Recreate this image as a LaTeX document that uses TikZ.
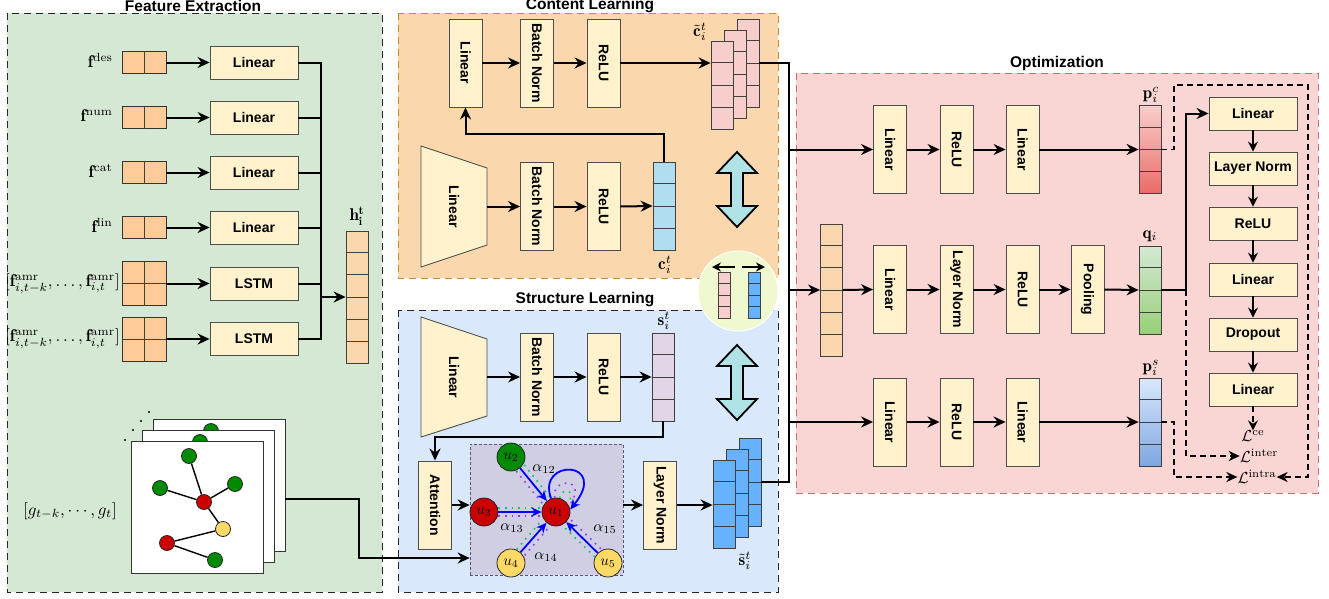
\documentclass[tikz,border=0pt]{standalone}
\usepackage{fontspec}
\setsansfont{Liberation Sans}
\usepackage{graphicx}
\usetikzlibrary{arrows.meta,calc}
\definecolor{boxy}{HTML}{FFF2CC}
\definecolor{boxb}{HTML}{4D4D4D}
\definecolor{featc}{HTML}{FFCC99}
\definecolor{greenp}{HTML}{D5E8D4}
\definecolor{orangep}{HTML}{FAD7AC}
\definecolor{orangeb}{HTML}{C98A35}
\definecolor{bluep}{HTML}{DAE8FC}
\definecolor{redp}{HTML}{F9D6D4}
\definecolor{redb}{HTML}{C8706B}
\definecolor{pinkc}{HTML}{F8CECC}
\definecolor{cyanc}{HTML}{B1DDF0}
\definecolor{purpc}{HTML}{E1D5E7}
\definecolor{bluec}{HTML}{66B2FF}
\definecolor{darrc}{HTML}{B0E3E6}
\definecolor{circc}{HTML}{F0F8D0}
\definecolor{gpanel}{HTML}{D0CEE2}
\definecolor{gpanelb}{HTML}{56517E}
\definecolor{nred}{HTML}{CC0000}
\definecolor{ngreen}{HTML}{008A00}
\definecolor{nyellow}{HTML}{FFD966}
\definecolor{dotgreen}{HTML}{00CC66}
\definecolor{dotpurple}{HTML}{9933FF}
\newcommand{\vt}[1]{\rotatebox{-90}{#1}}
\newcommand{\ml}[2][1.7]{\scalebox{#1}{$#2$}}
\newcommand{\vecn}[5]{%
  \node[vecst, minimum height=#4*22, #5] (#1) at (#2,#3) {};
  \pgfmathtruncatemacro{\nm}{#4-1}%
  \foreach \k in {1,...,\nm} {\draw[cellline] ($(#1.north west)!\k/#4!(#1.south west)$) -- ($(#1.north east)!\k/#4!(#1.south east)$);}%
}
\begin{document}
\begin{tikzpicture}[x=1pt,y=-1pt,
  conn/.style={line width=2, black},
  arr/.style={conn, -{Stealth[length=12pt,width=11pt,inset=4pt]}},
  darr/.style={line width=1.8, dash pattern=on 6pt off 4pt, -{Stealth[length=11pt,width=10pt,inset=3.5pt]}},
  box/.style={draw=boxb, fill=boxy, line width=0.9, inner sep=0, font=\sffamily\bfseries\fontsize{14}{16}\selectfont},
  hbox/.style={box, minimum width=88, minimum height=33},
  vbox/.style={box, minimum width=33, minimum height=88},
  trap/.style={draw=boxb, fill=boxy, line width=0.9},
  tlbl/.style={inner sep=0, font=\sffamily\bfseries\fontsize{14}{16}\selectfont},
  vecst/.style={draw=black!75, line width=0.8, minimum width=22, inner sep=0},
  cellline/.style={black!75, line width=0.8},
  panel/.style={line width=1, dash pattern=on 7pt off 5pt},
  title/.style={font=\sffamily\bfseries\fontsize{15.5}{17}\selectfont, inner sep=1},
  mlab/.style={inner sep=0},
  gn/.style={circle, draw=black!85, line width=0.8, minimum size=15, inner sep=0},
  un/.style={circle, draw=black!85, line width=0.8, minimum size=28, inner sep=0},
  gsq/.style={draw=black!80, fill=white, line width=0.9, minimum size=132, inner sep=0},
  barr/.style={blue, line width=1.8, -{Stealth[length=10pt,width=9pt,inset=3pt]}},
  dotg/.style={dotgreen, line width=1.6, dash pattern=on 1.6pt off 5pt},
  dotp/.style={dotpurple, line width=1.6, dash pattern=on 1.6pt off 5pt},
  darrow/.style={fill=darrc, draw=black, line width=1.8, line join=miter},
  fbox/.style={draw=black!80, fill=featc, line width=0.9, minimum width=44, minimum height=22, inner sep=0},
  abox/.style={draw=black!80, fill=featc, line width=0.9, minimum width=44, minimum height=44, inner sep=0},
]
\useasboundingbox (0,0) rectangle (1329,598);

% ================= panels =================
\draw[panel, fill=greenp, draw=black!85] (7,13) rectangle (382,592);
\node[title] (tfe) at (193,6) {Feature Extraction};
\draw[panel, fill=orangep, draw=orangeb] (398,13) rectangle (778,278);
\node[title] (tcl) at (590,6) {Content Learning};
\draw[panel, fill=bluep, draw=black!85] (398,310) rectangle (778,592);
\node[title] (tsl) at (585,300) {Structure Learning};
\draw[panel, fill=redp, draw=redb] (796,73) rectangle (1318,493);
\node[title] (top) at (1057,63) {Optimization};

% ================= feature extraction =================
\foreach \n/\y/\lab in {1/62.5/des, 2/117.5/num, 3/172.5/cat, 4/227.5/lin} {
  \node[fbox] (fb\n) at (144,\y) {};
  \draw[cellline] (fb\n.north) -- (fb\n.south);
  \node[mlab, anchor=east] (fl\n) at (113,\y-2) {\ml{\mathbf{f}^{\mathrm{\lab}}}};
  \node[hbox] (fe\n) at (254,\y) {Linear};
  \draw[arr] (fb\n.east) -- (fe\n.west);
}
\foreach \n/\y in {5/283.5, 6/339} {
  \node[abox] (ab\n) at (144,\y) {};
  \draw[cellline] (ab\n.north) -- (ab\n.south);
  \draw[cellline] (ab\n.west) -- (ab\n.east);
  \node[mlab, anchor=east] (al\n) at (120,\y) {\ml{[\mathbf{f}^{\mathrm{amr}}_{i,t-k},\ldots,\mathbf{f}^{\mathrm{amr}}_{i,t}]}};
  \node[hbox] (fe\n) at (254,\y) {LSTM};
  \draw[arr] (ab\n.east) -- (fe\n.west);
}
\coordinate (bj) at (321,297);
\foreach \n in {1,...,6} { \draw[conn] (fe\n.east) -| (bj); }
\vecn{hv}{357}{297}{6}{fill=orangep}
\draw[arr] (bj) -- (hv.west);
\node[mlab] (hlab) at (357,216) {\ml{\mathbf{h}_{\mathbf{i}}^{\mathbf{t}}}};

% graph stack
\node[gsq] (gback) at (219,485) {};
\node[gn, fill=ngreen] (gbn) at (211,431) {};
\node[gsq] (gmid) at (208,496) {};
\node[gn, fill=ngreen] (gmn) at (200,442) {};
\node[gsq] (gfront) at (197,507) {};
\node[gn, fill=ngreen] (ga) at (189,456) {};
\node[gn, fill=ngreen] (gb) at (160,488) {};
\node[gn, fill=ngreen] (gc) at (235,484) {};
\node[gn, fill=nred] (gd) at (204,502) {};
\node[gn, fill=nyellow] (ge) at (223,529) {};
\node[gn, fill=nred] (gf) at (167,543) {};
\node[gn, fill=ngreen] (gg) at (215,560) {};
\foreach \a/\b in {ga/gd, gb/gd, gc/gd, gd/ge, ge/gf, gf/gg} { \draw[line width=1.4] (\a) -- (\b); }
\foreach \p in {(125,440),(133,430),(141,421),(149,412)} { \fill \p circle (1.2); }
\node[mlab] (glab) at (70,511) {\ml{[g_{t-k},\cdots,g_t]}};

% ================= content learning =================
\node[vbox] (ctl) at (465.5,63) {\vt{Linear}};
\node[vbox] (cbn1) at (537,63) {\vt{Batch Norm}};
\node[vbox] (crl1) at (603.5,63) {\vt{ReLU}};
\draw[trap] (421,146) -- (487,168) -- (487,245) -- (421,267) -- cycle;
\node[tlbl, minimum width=66, minimum height=121] (clin) at (454,206.5) {\vt{Linear}};
\node[vbox] (cbn2) at (537,206.5) {\vt{Batch Norm}};
\node[vbox] (crl2) at (603.5,206.5) {\vt{ReLU}};
\vecn{cv}{664}{206}{4}{fill=cyanc}
\node[mlab] (cvlab) at (665,265) {\ml{\mathbf{c}_i^t}};
\draw[arr] (clin.east) -- (cbn2.west);
\draw[arr] (cbn2.east) -- (crl2.west);
\draw[arr] (crl2.east) -- (cv.west);
\coordinate (cup) at (664,134);
\draw[arr] (cv.north) -- (cup) -| (ctl.south);
\draw[arr] (ctl.east) -- (cbn1.west);
\draw[arr] (cbn1.east) -- (crl1.west);
\vecn{ctb}{748}{63}{4}{fill=pinkc}
\vecn{ctm}{735}{74}{4}{fill=pinkc}
\vecn{ctf}{722}{85}{4}{fill=pinkc}
\draw[arr] (crl1.east) -- (ctf.west |- crl1.east);
\node[mlab] (ctlab) at (700,32) {\ml{\tilde{\mathbf{c}}_i^t}};
\draw[darrow] (737,152) -- (757,173) -- (743,173) -- (743,206) -- (757,206) -- (737,227) -- (717,206) -- (731,206) -- (731,173) -- (717,173) -- cycle;

% ================= structure learning =================
\draw[trap] (421,317) -- (487,339) -- (487,416) -- (421,437) -- cycle;
\node[tlbl, minimum width=66, minimum height=120] (slin) at (454,377) {\vt{Linear}};
\node[vbox] (sbn) at (537,377) {\vt{Batch Norm}};
\node[vbox] (srl) at (603.5,377) {\vt{ReLU}};
\vecn{sv}{663}{377}{4}{fill=purpc}
\node[mlab] (svlab) at (664,321) {\ml{\mathbf{s}_i^t}};
\draw[arr] (slin.east) -- (sbn.west);
\draw[arr] (sbn.east) -- (srl.west);
\draw[arr] (srl.east) -- (sv.west);
\node[vbox] (att) at (435,505) {\vt{Attention}};
\coordinate (sdn) at (663,437);
\draw[arr] (sv.south) -- (sdn) -| (att.north);
\node[draw=gpanelb, fill=gpanel, line width=0.7, dash pattern=on 3pt off 2pt, minimum width=153, minimum height=131, inner sep=0] (gp) at (546.5,509.5) {};
\node[vbox] (lnorm) at (660,505) {\vt{Layer Norm}};
\draw[arr] (att.east) -- (gp.west |- att.east);
\draw[arr] (gp.east |- lnorm.west) -- (lnorm.west);
\coordinate (gk) at (359,558);
\draw[arr] ([yshift=-14pt]gback.east) -| (gk) -- (gp.west |- gk);
% attention graph
\node[un, fill=nred] (u1) at (556,512) {\ml[1.5]{u_1}};
\node[un, fill=ngreen] (u2) at (511,457) {\ml[1.5]{u_2}};
\node[un, fill=nred] (u3) at (484,512) {\ml[1.5]{u_3}};
\node[un, fill=nyellow] (u4) at (511,563) {\ml[1.5]{u_4}};
\node[un, fill=nyellow] (u5) at (608,563) {\ml[1.5]{u_5}};
\draw[dotg] ([shift={(0,-4)}]u3.east) -- ([shift={(0,-4)}]u1.west);
\draw[dotp] ([shift={(0,4)}]u3.east) -- ([shift={(0,4)}]u1.west);
\draw[dotg] ([shift={(4,-3)}]u2.-50) -- ([shift={(4,-3)}]u1.130);
\draw[dotp] ([shift={(-4,3)}]u2.-50) -- ([shift={(-4,3)}]u1.130);
\draw[dotg] ([shift={(-4,-3)}]u4.48) -- ([shift={(-4,-3)}]u1.-132);
\draw[dotp] ([shift={(4,3)}]u4.48) -- ([shift={(4,3)}]u1.-132);
\draw[dotp] ([shift={(3,-4)}]u5.135) -- ([shift={(3,-4)}]u1.-45);
\draw[dotg] ([shift={(-3,4)}]u5.135) -- ([shift={(-3,4)}]u1.-45);
\draw[dotp] (u1.95) .. controls (550,478) and (590,476) .. (u1.25);
\draw[dotg] (u1.75) .. controls (560,488) and (578,488) .. (u1.35);
\draw[barr] (u2) -- (u1);
\draw[barr] (u3) -- (u1);
\draw[barr] (u4) -- (u1);
\draw[barr] (u5) -- (u1);
\draw[barr] (u1.110) .. controls (536,458) and (610,460) .. (u1.10);
\node[mlab] (a12) at (544,469) {\ml[1.55]{\alpha_{12}}};
\node[mlab] (a13) at (512,528) {\ml[1.55]{\alpha_{13}}};
\node[mlab] (a14) at (546,557) {\ml[1.55]{\alpha_{14}}};
\node[mlab] (a15) at (605,529) {\ml[1.55]{\alpha_{15}}};
% s tilde stack
\vecn{stb}{750}{482}{4}{fill=bluec}
\vecn{stm}{737}{493}{4}{fill=bluec}
\vecn{stf}{724}{504}{4}{fill=bluec}
\draw[arr] (lnorm.east) -- (stf.west |- lnorm.east);
\node[mlab] (stlab) at (745,561) {\ml{\tilde{\mathbf{s}}_i^t}};
\draw[darrow] (737,345) -- (757,366) -- (743,366) -- (743,399) -- (757,399) -- (737,420) -- (717,399) -- (731,399) -- (731,366) -- (717,366) -- cycle;

% ================= fusion circle =================
\node[circle, fill=circc, draw=white, line width=1, minimum size=80, inner sep=0] (circ) at (738,291) {};
\node[vecst, fill=pinkc, minimum width=12, minimum height=46, line width=0.7] (cp) at (724,295) {};
\node[vecst, fill=bluec, minimum width=12, minimum height=46, line width=0.7] (cb) at (754,295) {};
\foreach \k in {1,2,3} {
  \draw[black!75, line width=0.7] ($(cp.north west)!\k/4!(cp.south west)$) -- ($(cp.north east)!\k/4!(cp.south east)$);
  \draw[black!75, line width=0.7] ($(cb.north west)!\k/4!(cb.south west)$) -- ($(cb.north east)!\k/4!(cb.south east)$);
}
\coordinate (cl0) at (735,267); \coordinate (cl1) at (712,267);
\coordinate (cr0) at (742,267); \coordinate (cr1) at (765,267);
\draw[line width=1.7, -{Stealth[length=9pt,width=9pt,inset=3pt]}] (cl0) -- (cl1);
\draw[line width=1.7, -{Stealth[length=9pt,width=9pt,inset=3pt]}] (cr0) -- (cr1);

% ================= bus to optimization =================
\coordinate (rb) at (789,290);
\draw[conn] (ctb.east) -| (rb);
\draw[conn] (stb.east) -| (rb);

% ================= optimization =================
\node[vbox] (ot1) at (890,149.5) {\vt{Linear}};
\node[vbox] (ot2) at (956.5,149.5) {\vt{ReLU}};
\node[vbox] (ot3) at (1022.5,149.5) {\vt{Linear}};
\vecn{pc}{1150}{149.5}{4}{top color=pinkc, bottom color={rgb,255:red,234;green,107;blue,102}}
\node[mlab] (pclab) at (1151,95) {\ml{\mathbf{p}_i^c}};
\draw[arr] (rb |- ot1.west) -- (ot1.west);
\draw[arr] (ot1.east) -- (ot2.west);
\draw[arr] (ot2.east) -- (ot3.west);
\draw[arr] (ot3.east) -- (pc.west);

\vecn{ov}{831.5}{290}{6}{fill=orangep}
\node[vbox] (om1) at (890,289.5) {\vt{Linear}};
\node[vbox] (om2) at (956.5,289.5) {\vt{Layer Norm}};
\node[vbox] (om3) at (1022.5,289.5) {\vt{ReLU}};
\node[vbox] (om4) at (1087.5,289.5) {\vt{Pooling}};
\vecn{qv}{1150}{290}{4}{top color=greenp, bottom color={rgb,255:red,151;green,208;blue,119}}
\node[mlab] (qlab) at (1150,236) {\ml{\mathbf{q}_i}};
\draw[arr] (rb) -- (ov.west);
\draw[arr] (ov.east) -- (om1.west);
\draw[arr] (om1.east) -- (om2.west);
\draw[arr] (om2.east) -- (om3.west);
\draw[arr] (om3.east) -- (om4.west);
\draw[arr] (om4.east) -- (qv.west);

\node[vbox] (ob1) at (890,422) {\vt{Linear}};
\node[vbox] (ob2) at (956.5,422) {\vt{ReLU}};
\node[vbox] (ob3) at (1022.5,422) {\vt{Linear}};
\vecn{ps}{1150}{422}{4}{top color=bluep, bottom color={rgb,255:red,126;green,166;blue,224}}
\node[mlab] (pslab) at (1151,368) {\ml{\mathbf{p}_i^s}};
\draw[arr] (rb |- ob1.west) -- (ob1.west);
\draw[arr] (ob1.east) -- (ob2.west);
\draw[arr] (ob2.east) -- (ob3.west);
\draw[arr] (ob3.east) -- (ps.west);

% right column
\node[hbox] (r1) at (1253,113.5) {Linear};
\node[hbox] (r2) at (1253,168.5) {Layer Norm};
\node[hbox] (r3) at (1253,223.5) {ReLU};
\node[hbox] (r4) at (1253,279.5) {Linear};
\node[hbox] (r5) at (1253,334.5) {Dropout};
\node[hbox] (r6) at (1253,389.5) {Linear};
\foreach \a/\b in {r1/r2, r2/r3, r3/r4, r4/r5, r5/r6} { \draw[conn, -{Stealth[length=10pt,width=10pt,inset=3.5pt]}] (\a.south) -- (\b.north); }
\coordinate (qc) at (1186,290);
\draw[arr] (qv.east) -- (qc) |- (r1.west);

\node[mlab] (Lce) at (1253,436) {\ml[1.6]{\mathcal{L}^{\mathrm{ce}}}};
\node[mlab] (Linter) at (1259,456) {\ml[1.6]{\mathcal{L}^{\mathrm{inter}}}};
\node[mlab] (Lintra) at (1257,477) {\ml[1.6]{\mathcal{L}^{\mathrm{intra}}}};
\draw[darr, -{Stealth[length=10pt,width=10pt,inset=3.5pt]}] (r6.south) -- (Lce.north);
\coordinate (d1) at (1174,85);
\coordinate (d2) at (1308,85);
\coordinate (d3) at (1174,477);
\draw[darr] (pc.east) -| (d1) -- (d2) |- (Lintra.east);
\draw[darr] (ps.east) -| (d3) -- (Lintra.west);
\draw[darr] (qc) |- (Linter.west);
\end{tikzpicture}
\end{document}
